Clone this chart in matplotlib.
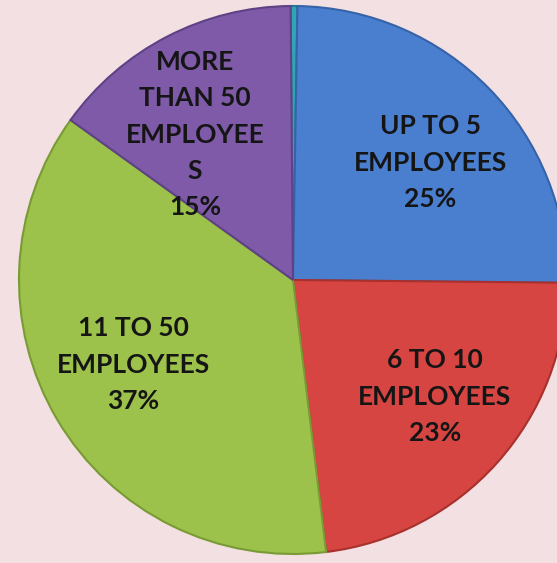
import numpy as np
import matplotlib; matplotlib.use('Agg')
import matplotlib.pyplot as plt

# slices clockwise from 12 o'clock
names = ["", "UP TO 5\nEMPLOYEES", "6 TO 10\nEMPLOYEES", "11 TO 50\nEMPLOYEES", "MORE\nTHAN 50\nEMPLOYEE\nS"]
shares = [0.4, 25, 23, 37, 15]
pct_text = ["", "25%", "23%", "37%", "15%"]
colors = ["#2fa5b5", "#4a7fd0", "#d64541", "#9cc24b", "#7e5aa8"]
edges = ["#1f7f8c", "#3563a8", "#a8302d", "#7a9a35", "#5f4285"]

W, H = 557, 563
fig = plt.figure(figsize=(W/100, H/100), dpi=100, facecolor="#f3e0e3")
ax = fig.add_axes([0, 0, 1, 1])
ax.set_facecolor("#f3e0e3")

labels = [f"{n}\n{p}" if n else "" for n, p in zip(names, pct_text)]
cx, cy, R = 293, 283, 274
wedges, texts = ax.pie(shares, labels=labels, colors=colors, startangle=90.5,
                       counterclock=False, center=(cx, cy), radius=R,
                       labeldistance=0.66, frame=True,
                       textprops=dict(fontsize=19, fontweight="bold", family="Lato",
                                      color="#151515", linespacing=1.62))
for w, ec in zip(wedges, edges):
    w.set_edgecolor(ec); w.set_linewidth(1.5)

# label placement: (radius fraction, angle in degrees)
label_pos = [None, (0.66, 40.5), (0.67, -39.5), (0.66, 208), (0.64, 124)]
for t, lp in zip(texts, label_pos):
    t.set_ha("center"); t.set_va("center")
    if lp:
        r, a = lp
        t.set_position((cx + r*R*np.cos(np.radians(a)), cy + r*R*np.sin(np.radians(a))))

ax.set_xlim(0, W); ax.set_ylim(0, H)
ax.set_aspect("equal")
ax.axis("off")
fig.savefig("out.png", dpi=100, facecolor=fig.get_facecolor())
